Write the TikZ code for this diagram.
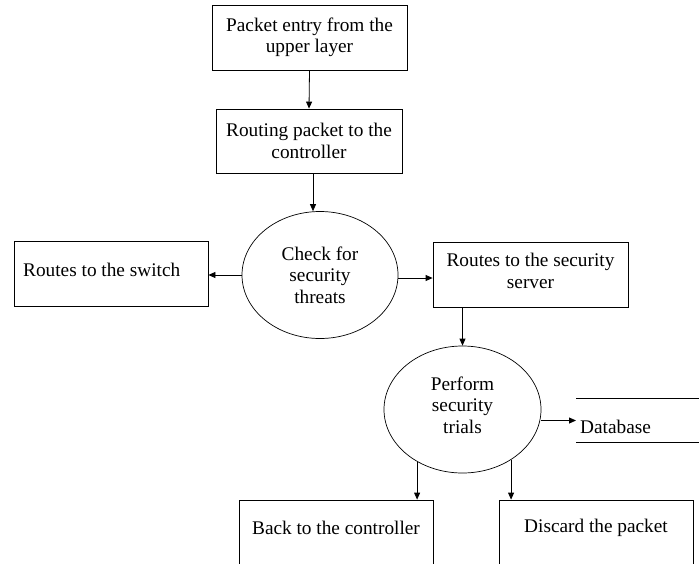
\documentclass[tikz,border=0pt]{standalone}
\usepackage{fontspec}
\setmainfont{Liberation Serif}
\usetikzlibrary{shapes.geometric,arrows.meta}
\begin{document}
\begin{tikzpicture}[x=1pt,y=-1pt,
  font=\fontsize{19.3}{21.5}\selectfont,
  box/.style={draw,line width=0.8pt,rectangle,inner sep=0pt,align=center},
  oval/.style={draw,line width=0.7pt,ellipse,inner sep=0pt,align=center,minimum width=156pt,minimum height=127pt},
  arr/.style={line width=0.8pt,-{Triangle[length=7pt,width=6pt]}}]
\useasboundingbox (0,0) rectangle (699,563);
\clip (0,0) rectangle (699,563);
\node[box,minimum width=195pt,minimum height=65pt] (entry) at (309.5,37.5) {Packet entry from the\\upper layer};
\node[box,minimum width=186pt,minimum height=64pt] (route) at (309,141) {Routing packet to the\\controller};
\node[oval] (check) at (320,275) {Check for\\security\\threats};
\node[box,minimum width=194pt,minimum height=65pt] (switch) at (111,273.5) {};
\node[anchor=west,inner sep=0pt] (switchtxt) at (23,270) {Routes to the switch};
\node[box,minimum width=195pt,minimum height=65pt] (server) at (530.5,274.5) {};
\node[align=center,inner sep=0pt] (servertxt) at (530.5,271) {Routes to the security\\server};
\node[oval,minimum width=157pt] (trials) at (462.5,409.5) {};
\node[align=center,inner sep=0pt] (trialstxt) at (462.5,405) {Perform\\security\\trials};
\node[anchor=west,inner sep=0pt] (db) at (580,427) {Database};
\coordinate (dbtl) at (576,398);
\coordinate (dbtr) at (699,398);
\coordinate (dbbl) at (576,442);
\coordinate (dbbr) at (699,442);
\draw[line width=0.8pt] (dbtl) -- (dbtr);
\draw[line width=0.8pt] (dbbl) -- (dbbr);
\node[box,minimum width=194pt,minimum height=100pt] (back) at (336,550) {};
\node[inner sep=0pt] (backtxt) at (336,528) {Back to the controller};
\node[box,minimum width=194pt,minimum height=100pt] (discard) at (596,550) {};
\node[inner sep=0pt] (discardtxt) at (596,528) {Discard the packet};
\draw[arr] (entry.south) -- (route.north);
\draw[arr] ([xshift=4pt]route.south) -- ([xshift=4pt]route.south |- check.north);
\draw[arr] (check.west) -- (check.west -| switch.east);
\draw[arr] ([yshift=-3pt]check.east) -- ([yshift=-3pt]check.east -| server.west);
\draw[arr] (trials.north |- server.south) -- (trials.north);
\draw[arr] ([yshift=-11pt]trials.east) -- ([yshift=-11pt,xshift=-4pt]trials.east -| db.west);
\draw[arr] (trials.229) -- (trials.229 |- back.north);
\draw[arr] (trials.314) -- (trials.314 |- discard.north);
\end{tikzpicture}
\end{document}
